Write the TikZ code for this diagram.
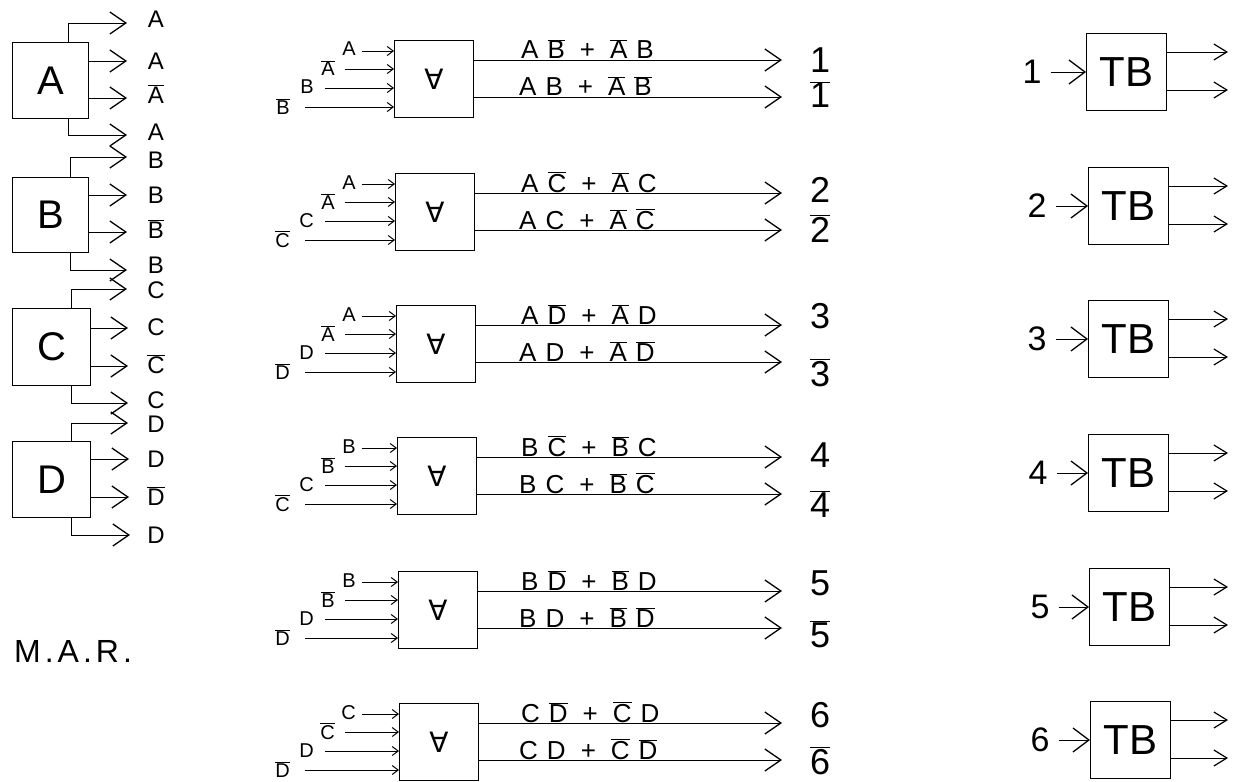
\documentclass[tikz,border=0pt]{standalone}
\usepackage{fontspec}
\setmainfont{Liberation Sans}
\newfontfamily\dejavu{DejaVu Sans}
\usetikzlibrary{arrows.meta}
\newcommand\ob[1]{$\overline{\hbox{#1}}$}
\newcommand\lgap{\hspace{9pt}}
\newcommand\pplus{\hspace{15pt}+\hspace{15pt}}
\newcommand\nbA{30}
\newcommand\nbB{70}
\tikzset{
  lbox/.style={draw,line width=1pt,minimum width=76pt,minimum height=76pt,inner sep=0pt,anchor=north west,font=\fontsize{40}{44}\selectfont},
  xbox/.style={draw,line width=1pt,minimum width=79pt,minimum height=77pt,inner sep=0pt,anchor=north west,font=\dejavu\fontsize{28}{32}\selectfont},
  tbbox/.style={draw,line width=1pt,minimum width=80pt,minimum height=77pt,inner sep=0pt,anchor=north west,font=\fontsize{42}{46}\selectfont},
  llab/.style={inner sep=0pt,anchor=base,font=\fontsize{24}{28}\selectfont},
  inlab/.style={inner sep=0pt,anchor=base east,font=\fontsize{20}{24}\selectfont},
  expr/.style={inner sep=0pt,anchor=base west,font=\fontsize{26}{30}\selectfont},
  num/.style={inner sep=0pt,anchor=base,font=\fontsize{36}{40}\selectfont},
  tbnum/.style={inner sep=0pt,anchor=center,font=\fontsize{34}{38}\selectfont},
  bigarr/.style={line width=0.8pt,-{Straight Barb[length=16pt,width=22pt,line width=1.3pt]}},
  inarr/.style={line width=0.7pt,-{Straight Barb[length=6pt,width=9pt,line width=1pt]}},
  tbin/.style={line width=0.8pt,shorten <=9pt,-{Straight Barb[length=16pt,width=24pt,line width=1.3pt]}},
  tbout/.style={line width=0.8pt,-{Straight Barb[length=13pt,width=16pt,line width=1.2pt]}},
}
\newcommand\midrow[9]{%
  \node[xbox] (x#1) at (393+#1,#2) {∀};
  \coordinate (s#1a) at (362,#2+11);
  \coordinate (s#1b) at (345,#2+29);
  \coordinate (s#1c) at (325,#2+48);
  \coordinate (s#1d) at (305,#2+67);
  \draw[inarr] (s#1a) -- (s#1a -| x#1.west);
  \draw[inarr] (s#1b) -- (s#1b -| x#1.west);
  \draw[inarr] (s#1c) -- (s#1c -| x#1.west);
  \draw[inarr] (s#1d) -- (s#1d -| x#1.west);
  \node[inlab] (l#1a) at ([xshift=-6pt,yshift=-5pt]s#1a) {#3};
  \node[inlab] (l#1b) at ([xshift=-10pt,yshift=-7pt]s#1b) {#4};
  \node[inlab] (l#1c) at ([xshift=-11pt,yshift=-6pt]s#1c) {#5};
  \node[inlab] (l#1d) at ([xshift=-15pt,yshift=-7pt]s#1d) {#6};
  \coordinate (o#1a) at (782,#2+20);
  \coordinate (o#1b) at (782,#2+57);
  \draw[bigarr] (x#1.east |- o#1a) -- (o#1a);
  \draw[bigarr] (x#1.east |- o#1b) -- (o#1b);
  \node[expr] (e#1a) at (521,#2+19) {#7};
  \node[expr] (e#1b) at (519,#2+56) {#8};
  \node[num] (n#1a) at (820,#2+\nbA) {#9};
  \node[num] (n#1b) at (820,#2+\nbB) {\ob{#9}};
}
\newcommand\tbrow[4]{%
  \node[tbbox] (t#1) at (#3,#2) {TB};
  \node[tbnum] (tn#1) at (#4,#2+39) {#1};
  \draw[tbin] (tn#1.east) -- (tn#1.east -| t#1.west);
  \coordinate (to#1a) at (1228,#2+19);
  \coordinate (to#1b) at (1228,#2+57);
  \draw[tbout] (t#1.east |- to#1a) -- (to#1a);
  \draw[tbout] (t#1.east |- to#1b) -- (to#1b);
}
\begin{document}
\begin{tikzpicture}[x=1pt,y=-1pt]
\useasboundingbox[fill=white] (0,0) rectangle (1241,781);
% ---------- left column ----------
\node[lbox] (a) at (12,42) {A};
\node[lbox,minimum height=75pt] (b) at (12,177) {B};
\node[lbox,minimum width=78pt,minimum height=77pt] (c) at (12,308) {C};
\node[lbox,minimum width=78pt] (d) at (12,441) {D};
\coordinate (ta1) at (127,23);
\coordinate (ta2) at (127,61);
\coordinate (ta3) at (127,98);
\coordinate (ta4) at (127,135);
\coordinate (ta5) at (127,157);
\coordinate (ta6) at (127,195);
\coordinate (ta7) at (127,232);
\coordinate (ta8) at (127,270);
\coordinate (ta9) at (127,289);
\coordinate (ta10) at (128,328);
\coordinate (ta11) at (128,366);
\coordinate (ta12) at (128,403);
\coordinate (ta13) at (128,423);
\coordinate (ta14) at (129,459);
\coordinate (ta15) at (129,497);
\coordinate (ta16) at (130,535);
\draw[bigarr] ([xshift=56pt]a.north west) |- (ta1);
\draw[bigarr] (a.east |- ta2) -- (ta2);
\draw[bigarr] (a.east |- ta3) -- (ta3);
\draw[bigarr] ([xshift=56pt]a.south west) |- (ta4);
\draw[bigarr] ([xshift=58pt]b.north west) |- (ta5);
\draw[bigarr] (b.east |- ta6) -- (ta6);
\draw[bigarr] (b.east |- ta7) -- (ta7);
\draw[bigarr] ([xshift=58pt]b.south west) |- (ta8);
\draw[bigarr] ([xshift=59pt]c.north west) |- (ta9);
\draw[bigarr] (c.east |- ta10) -- (ta10);
\draw[bigarr] (c.east |- ta11) -- (ta11);
\draw[bigarr] ([xshift=59pt]c.south west) |- (ta12);
\draw[bigarr] ([xshift=59pt]d.north west) |- (ta13);
\draw[bigarr] (d.east |- ta14) -- (ta14);
\draw[bigarr] (d.east |- ta15) -- (ta15);
\draw[bigarr] ([xshift=59pt]d.south west) |- (ta16);
\node[llab] (la1) at (156,28) {A};
\node[llab] (la2) at (156,70) {A};
\node[llab] (la3) at (156,103) {\ob{A}};
\node[llab] (la4) at (156,140) {A};
\node[llab] (la5) at (156,168) {B};
\node[llab] (la6) at (156,203) {B};
\node[llab] (la7) at (156,238) {\ob{B}};
\node[llab] (la8) at (156,273) {B};
\node[llab] (la9) at (156,298) {C};
\node[llab] (la10) at (156,335) {C};
\node[llab] (la11) at (156,373) {\ob{C}};
\node[llab] (la12) at (156,408) {C};
\node[llab] (la13) at (156,432) {D};
\node[llab] (la14) at (156,467) {D};
\node[llab] (la15) at (156,505) {\ob{D}};
\node[llab] (la16) at (156,543) {D};
\node[inner sep=0pt,font=\fontsize{32}{36}\selectfont] (mar) at (73,651) {M\hspace{4pt}.\hspace{4pt}A\hspace{4pt}.\hspace{4pt}R\hspace{4pt}.};
% ---------- middle column ----------
\renewcommand\nbA{33}\renewcommand\nbB{68}
\midrow{1}{40}{A}{\ob{A}}{B}{\ob{B}}{A\lgap\ob{B}\pplus\ob{A}\lgap B}{A\lgap B\pplus\ob{A}\lgap\ob{B}}{1}
\renewcommand\nbA{29}\renewcommand\nbB{69}
\midrow{2}{173}{A}{\ob{A}}{C}{\ob{C}}{A\lgap\ob{C}\pplus\ob{A}\lgap C}{A\lgap C\pplus\ob{A}\lgap\ob{C}}{2}
\renewcommand\nbA{23}\renewcommand\nbB{81}
\midrow{3}{305}{A}{\ob{A}}{D}{\ob{D}}{A\lgap\ob{D}\pplus\ob{A}\lgap D}{A\lgap D\pplus\ob{A}\lgap\ob{D}}{3}
\renewcommand\nbA{30}\renewcommand\nbB{80}
\midrow{4}{437}{B}{\ob{B}}{C}{\ob{C}}{B\lgap\ob{C}\pplus\ob{B}\lgap C}{B\lgap C\pplus\ob{B}\lgap\ob{C}}{4}
\renewcommand\nbA{24}\renewcommand\nbB{76}
\midrow{5}{571}{B}{\ob{B}}{D}{\ob{D}}{B\lgap\ob{D}\pplus\ob{B}\lgap D}{B\lgap D\pplus\ob{B}\lgap\ob{D}}{5}
\renewcommand\nbA{24}\renewcommand\nbB{71}
\midrow{6}{703}{C}{\ob{C}}{D}{\ob{D}}{C\lgap\ob{D}\pplus\ob{C}\lgap D}{C\lgap D\pplus\ob{C}\lgap\ob{D}}{6}
% ---------- right column ----------
\tbrow{1}{33}{1086}{1032}
\tbrow{2}{167}{1088}{1037}
\tbrow{3}{300}{1088}{1037}
\tbrow{4}{434}{1088}{1038}
\tbrow{5}{568}{1089}{1040}
\tbrow{6}{701}{1090}{1040}
\end{tikzpicture}
\end{document}
